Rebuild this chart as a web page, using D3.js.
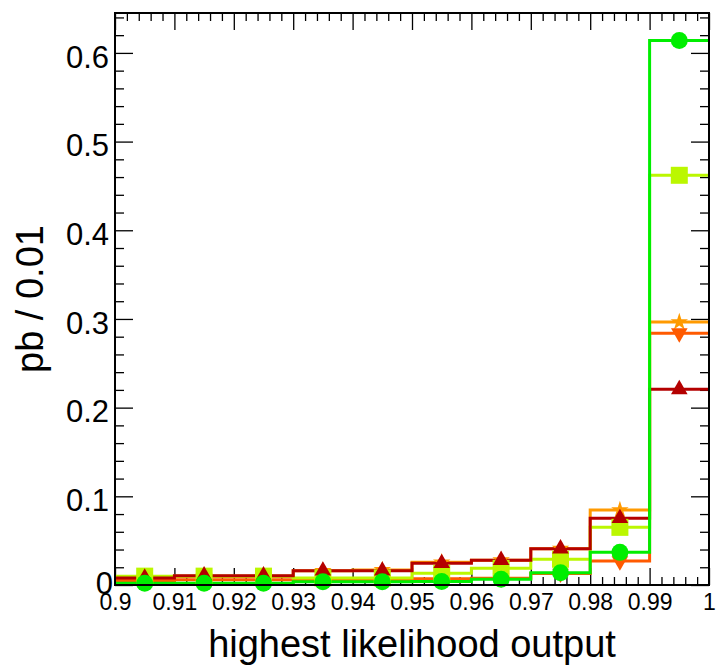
<!DOCTYPE html>
<html>
<head>
<meta charset="utf-8">
<script src="https://cdn.jsdelivr.net/npm/d3@7"></script>
<style>
  html, body { margin: 0; padding: 0; background: #fff; }
  svg { display: block; font-family: "Liberation Sans", Arial, sans-serif; }
</style>
</head>
<body>
<svg id="chart" width="718" height="667"></svg>
<script>
// ---- data ----
const binEdges = [0.90, 0.91, 0.92, 0.93, 0.94, 0.95, 0.96, 0.97, 0.98, 0.99, 1.00];
const xTickValues = [0.90, 0.91, 0.92, 0.93, 0.94, 0.95, 0.96, 0.97, 0.98, 0.99, 1.00];
const xTickLabels = ["0.9", "0.91", "0.92", "0.93", "0.94", "0.95", "0.96", "0.97", "0.98", "0.99", "1"];
const yTickValues = [0, 0.1, 0.2, 0.3, 0.4, 0.5, 0.6];
const yTickLabels = ["0", "0.1", "0.2", "0.3", "0.4", "0.5", "0.6"];

const orangeStar   = [0.008, 0.010, 0.010, 0.016, 0.017, 0.0256, 0.028, 0.041, 0.0846, 0.2965];
const orangeRedDown= [0.005, 0.006, 0.006, 0.006, 0.006, 0.007, 0.0076, 0.013, 0.027, 0.284];
const limeSquare   = [0.010, 0.010, 0.010, 0.008, 0.008, 0.0132, 0.0188, 0.029, 0.065, 0.462];
const darkRedUp    = [0.008, 0.0105, 0.0105, 0.016, 0.016, 0.0245, 0.028, 0.041, 0.0752, 0.2206];
const greenCircle  = [0.002, 0.002, 0.002, 0.0037, 0.0037, 0.0040, 0.0064, 0.0139, 0.0368, 0.614];

const seriesNames  = ["orangeStar", "orangeRedDown", "limeSquare", "darkRedUp", "greenCircle"];
const seriesValues = [orangeStar, orangeRedDown, limeSquare, darkRedUp, greenCircle];
const seriesColors = ["#ff9a00", "#ff5a00", "#bbf700", "#b40000", "#00ee00"];
const seriesSymbols = ["star", "triDown", "square", "triUp", "circle"];

// ---- layout ----
const svg = d3.select("#chart");
const L = 115, R = 709, T = 13, B = 585;
const x = d3.scaleLinear().domain([0.9, 1.0]).range([L, R]);
const y = d3.scaleLinear().domain([0, 0.645]).range([B, T]);

const xMinor = d3.range(0, 51).map(i => 0.9 + i * 0.002).filter(v => Math.abs((v * 100) - Math.round(v * 100)) > 1e-6);
const yMinor = d3.range(0, 33).map(i => i * 0.02).filter(v => Math.abs(v * 10 - Math.round(v * 10)) > 1e-6);

function styleAxis(g) {
  g.select(".domain").remove();
  g.selectAll("line").attr("stroke", "#000").attr("stroke-width", 1.3);
}

// bottom axis
const gxb = svg.append("g").attr("transform", `translate(0,${B})`)
  .call(d3.axisBottom(x).tickValues(xTickValues).tickSize(-17).tickPadding(9)
    .tickFormat((d, i) => xTickLabels[i]));
styleAxis(gxb);
gxb.selectAll("text").attr("font-size", 23).attr("fill", "#000").attr("font-family", "Liberation Sans, Arial, sans-serif");
const gxbm = svg.append("g").attr("transform", `translate(0,${B})`)
  .call(d3.axisBottom(x).tickValues(xMinor).tickSize(-8).tickFormat(""));
styleAxis(gxbm);
// top axis
const gxt = svg.append("g").attr("transform", `translate(0,${T})`)
  .call(d3.axisTop(x).tickValues(xTickValues).tickSize(-17).tickFormat(""));
styleAxis(gxt);
const gxtm = svg.append("g").attr("transform", `translate(0,${T})`)
  .call(d3.axisTop(x).tickValues(xMinor).tickSize(-8).tickFormat(""));
styleAxis(gxtm);

// left axis
const gyl = svg.append("g").attr("transform", `translate(${L},0)`)
  .call(d3.axisLeft(y).tickValues(yTickValues).tickSize(-18).tickPadding(6)
    .tickFormat((d, i) => yTickLabels[i]));
styleAxis(gyl);
gyl.selectAll("text").attr("font-size", 31).attr("fill", "#000").attr("dy", "0.46em")
  .attr("font-family", "Liberation Sans, Arial, sans-serif");
gyl.selectAll(".tick").filter(d => d === 0).select("text").attr("dy", "0.26em").attr("x", -2);
const gylm = svg.append("g").attr("transform", `translate(${L},0)`)
  .call(d3.axisLeft(y).tickValues(yMinor).tickSize(-9).tickFormat(""));
styleAxis(gylm);
// right axis
const gyr = svg.append("g").attr("transform", `translate(${R},0)`)
  .call(d3.axisRight(y).tickValues(yTickValues).tickSize(-18).tickFormat(""));
styleAxis(gyr);
const gyrm = svg.append("g").attr("transform", `translate(${R},0)`)
  .call(d3.axisRight(y).tickValues(yMinor).tickSize(-9).tickFormat(""));
styleAxis(gyrm);

// ---- histograms ----
const line = d3.line().x(d => x(d[0])).y(d => y(d[1])).curve(d3.curveStepAfter);
const centers = binEdges.slice(0, -1).map((e, i) => (e + binEdges[i + 1]) / 2);

const symMap = {
  star: d3.symbolStar,
  triDown: d3.symbolTriangle,
  square: d3.symbolSquare,
  triUp: d3.symbolTriangle,
  circle: d3.symbolCircle
};
const symSize = { star: 95, triDown: 120, square: 289, triUp: 120, circle: 227 };

seriesValues.forEach((vals, si) => {
  const pts = vals.map((v, i) => [binEdges[i], v]);
  pts.push([binEdges[binEdges.length - 1], vals[vals.length - 1]]);
  svg.append("path").datum(pts)
    .attr("d", line)
    .attr("fill", "none")
    .attr("stroke", seriesColors[si])
    .attr("stroke-width", 3);
});

seriesValues.forEach((vals, si) => {
  const s = seriesSymbols[si];
  const sym = d3.symbol().type(symMap[s]).size(symSize[s]);
  svg.append("g").selectAll("path").data(vals).join("path")
    .attr("d", sym)
    .attr("fill", seriesColors[si])
    .attr("transform", (d, i) => `translate(${x(centers[i])},${y(d)})` + (s === "triDown" ? " rotate(180)" : ""));
});

// frame
svg.append("rect").attr("x", L).attr("y", T).attr("width", R - L).attr("height", B - T)
  .attr("fill", "none").attr("stroke", "#000").attr("stroke-width", 2);

// titles
svg.append("text").attr("x", (L + R) / 2).attr("y", 657).attr("text-anchor", "middle")
  .attr("font-size", 38).attr("fill", "#000").text("highest likelihood output");
svg.append("text").attr("transform", `translate(43,${(T + B) / 2}) rotate(-90)`)
  .attr("text-anchor", "middle").attr("font-size", 38).attr("fill", "#000").text("pb / 0.01");
</script>
</body>
</html>
